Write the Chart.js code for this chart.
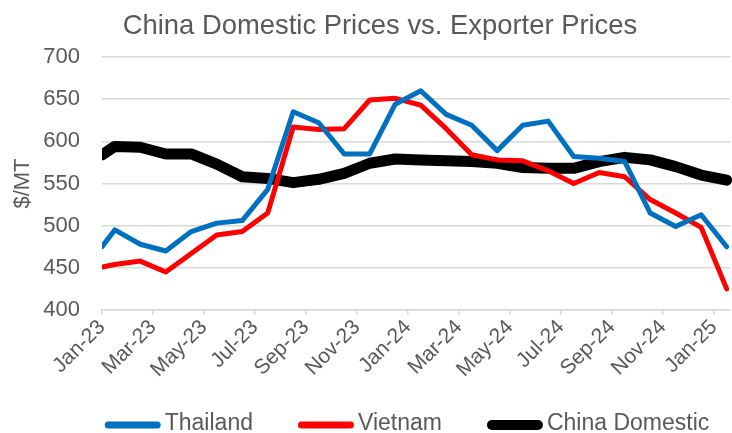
<!DOCTYPE html>
<html><head><meta charset="utf-8">
<script src="https://cdn.jsdelivr.net/npm/chart.js@4.4.1/dist/chart.umd.min.js"></script>
<style>html,body{margin:0;padding:0;background:#fff}#wrap{width:732px;height:433px;position:relative}</style>
</head><body><div id="wrap"><canvas id="c" width="732" height="433"></canvas></div>
<script>
const chartTitle = "China Domestic Prices vs. Exporter Prices";
const yAxisTitle = "$/MT";
// month index from 1 Jan 2023 (0) ; points at start of Jan-23 then mid-month
const monthPositions = [0, 0.5, 1.5, 2.5, 3.5, 4.5, 5.5, 6.5, 7.5, 8.5, 9.5, 10.5, 11.5, 12.5, 13.5, 14.5, 15.5, 16.5, 17.5, 18.5, 19.5, 20.5, 21.5, 22.5, 23.5, 24.5];
const tickLabels = ["Jan-23","Mar-23","May-23","Jul-23","Sep-23","Nov-23","Jan-24","Mar-24","May-24","Jul-24","Sep-24","Nov-24","Jan-25"];
const seriesNames = ["Thailand", "Vietnam", "China Domestic"];
const thailand = [475, 495, 478, 470, 493, 503, 506, 543, 635, 622, 585, 585, 644, 660, 632, 619, 589, 619, 624, 582, 580, 576, 515, 499, 513, 475];
const vietnam = [451, 454, 458, 445, 467, 489, 493, 515, 617, 614, 615, 649, 651, 643, 615, 584, 578, 577, 565, 550, 563, 558, 531, 515, 498, 425];
const chinaDomestic = [584, 594, 593, 585, 585, 573, 558, 556, 551, 555, 562, 574, 579, 578, 577, 576, 574, 569, 568, 568, 576, 581, 578, 570, 560, 554];

const colors = ["#0070C0", "#FF0000", "#000000"];
const lineWidths = [5, 5, 11];
const legendLineWidths = [7, 7, 10];
const FONT = '"Liberation Sans", Arial, sans-serif';
const TEXT = '#595959';

function pts(vals){ return vals.map((v,i)=>({x: monthPositions[i], y: v})); }
const allSeries = [thailand, vietnam, chinaDomestic];

const titleLegendPlugin = {
  id: 'titleLegend',
  afterDraw(chart){
    const ctx = chart.ctx;
    ctx.save();
    ctx.font = '27.4px ' + FONT;
    ctx.fillStyle = TEXT;
    ctx.textAlign = 'center';
    ctx.textBaseline = 'alphabetic';
    ctx.fillText(chartTitle, 380, 34);

    // legend
    ctx.font = '23px ' + FONT;
    ctx.textAlign = 'left';
    ctx.textBaseline = 'middle';
    const lineLen = 56, lineGap = 4, itemGap = 45, cx = 407, ly = 425;
    const widths = seriesNames.map(n => ctx.measureText(n).width);
    const total = widths.reduce((a,b)=>a+b,0) + seriesNames.length*(lineLen+lineGap) + itemGap*(seriesNames.length-1);
    let x = cx - total/2;
    seriesNames.forEach((n, i) => {
      ctx.strokeStyle = colors[i];
      ctx.lineWidth = legendLineWidths[i];
      ctx.lineCap = 'round';
      ctx.beginPath();
      ctx.moveTo(x + legendLineWidths[i]/2, ly);
      ctx.lineTo(x + lineLen - legendLineWidths[i]/2, ly);
      ctx.stroke();
      ctx.fillStyle = TEXT;
      ctx.fillText(n, x + lineLen + lineGap, ly - 1);
      x += lineLen + lineGap + widths[i] + itemGap;
    });
    ctx.restore();
  }
};

new Chart(document.getElementById('c'), {
  type: 'line',
  data: {
    datasets: allSeries.map((s, i) => ({
      label: seriesNames[i],
      data: pts(s),
      borderColor: colors[i],
      backgroundColor: colors[i],
      borderWidth: lineWidths[i],
      borderJoinStyle: 'round',
      borderCapStyle: 'round',
      pointRadius: 0,
      tension: 0,
      fill: false,
      clip: {left: 0, right: 10, top: 10, bottom: 10}
    }))
  },
  options: {
    responsive: false,
    animation: false,
    layout: { padding: { top: 57, right: 2, bottom: 38, left: 0 } },
    plugins: {
      title: { display: false },
      tooltip: { enabled: false },
      legend: { display: false }
    },
    scales: {
      x: {
        type: 'linear',
        min: 0,
        max: 24.63,
        afterFit(scale){ scale.height = 85; },
        grid: { drawOnChartArea: false, drawTicks: true, tickLength: 5, color: '#d9d9d9', lineWidth: 1.5 },
        border: { display: true, color: '#d9d9d9', width: 1.5 },
        ticks: {
          stepSize: 2,
          autoSkip: false,
          includeBounds: false,
          maxTicksLimit: 30,
          minRotation: 45,
          maxRotation: 45,
          padding: 0,
          color: TEXT,
          font: { family: FONT, size: 21 },
          callback: (v) => tickLabels[Math.round(v / 2)]
        }
      },
      y: {
        min: 400,
        max: 700,
        afterFit(scale){ scale.width = 102; },
        grid: { drawTicks: false, color: '#d9d9d9', lineWidth: 1.5 },
        border: { display: false },
        ticks: { stepSize: 50, padding: 22, color: TEXT, font: { family: FONT, size: 22 } },
        title: { display: true, text: yAxisTitle, color: TEXT, font: { family: FONT, size: 22 }, padding: { top: 10, bottom: 0 } }
      }
    }
  },
  plugins: [titleLegendPlugin]
});
</script>
</body></html>
